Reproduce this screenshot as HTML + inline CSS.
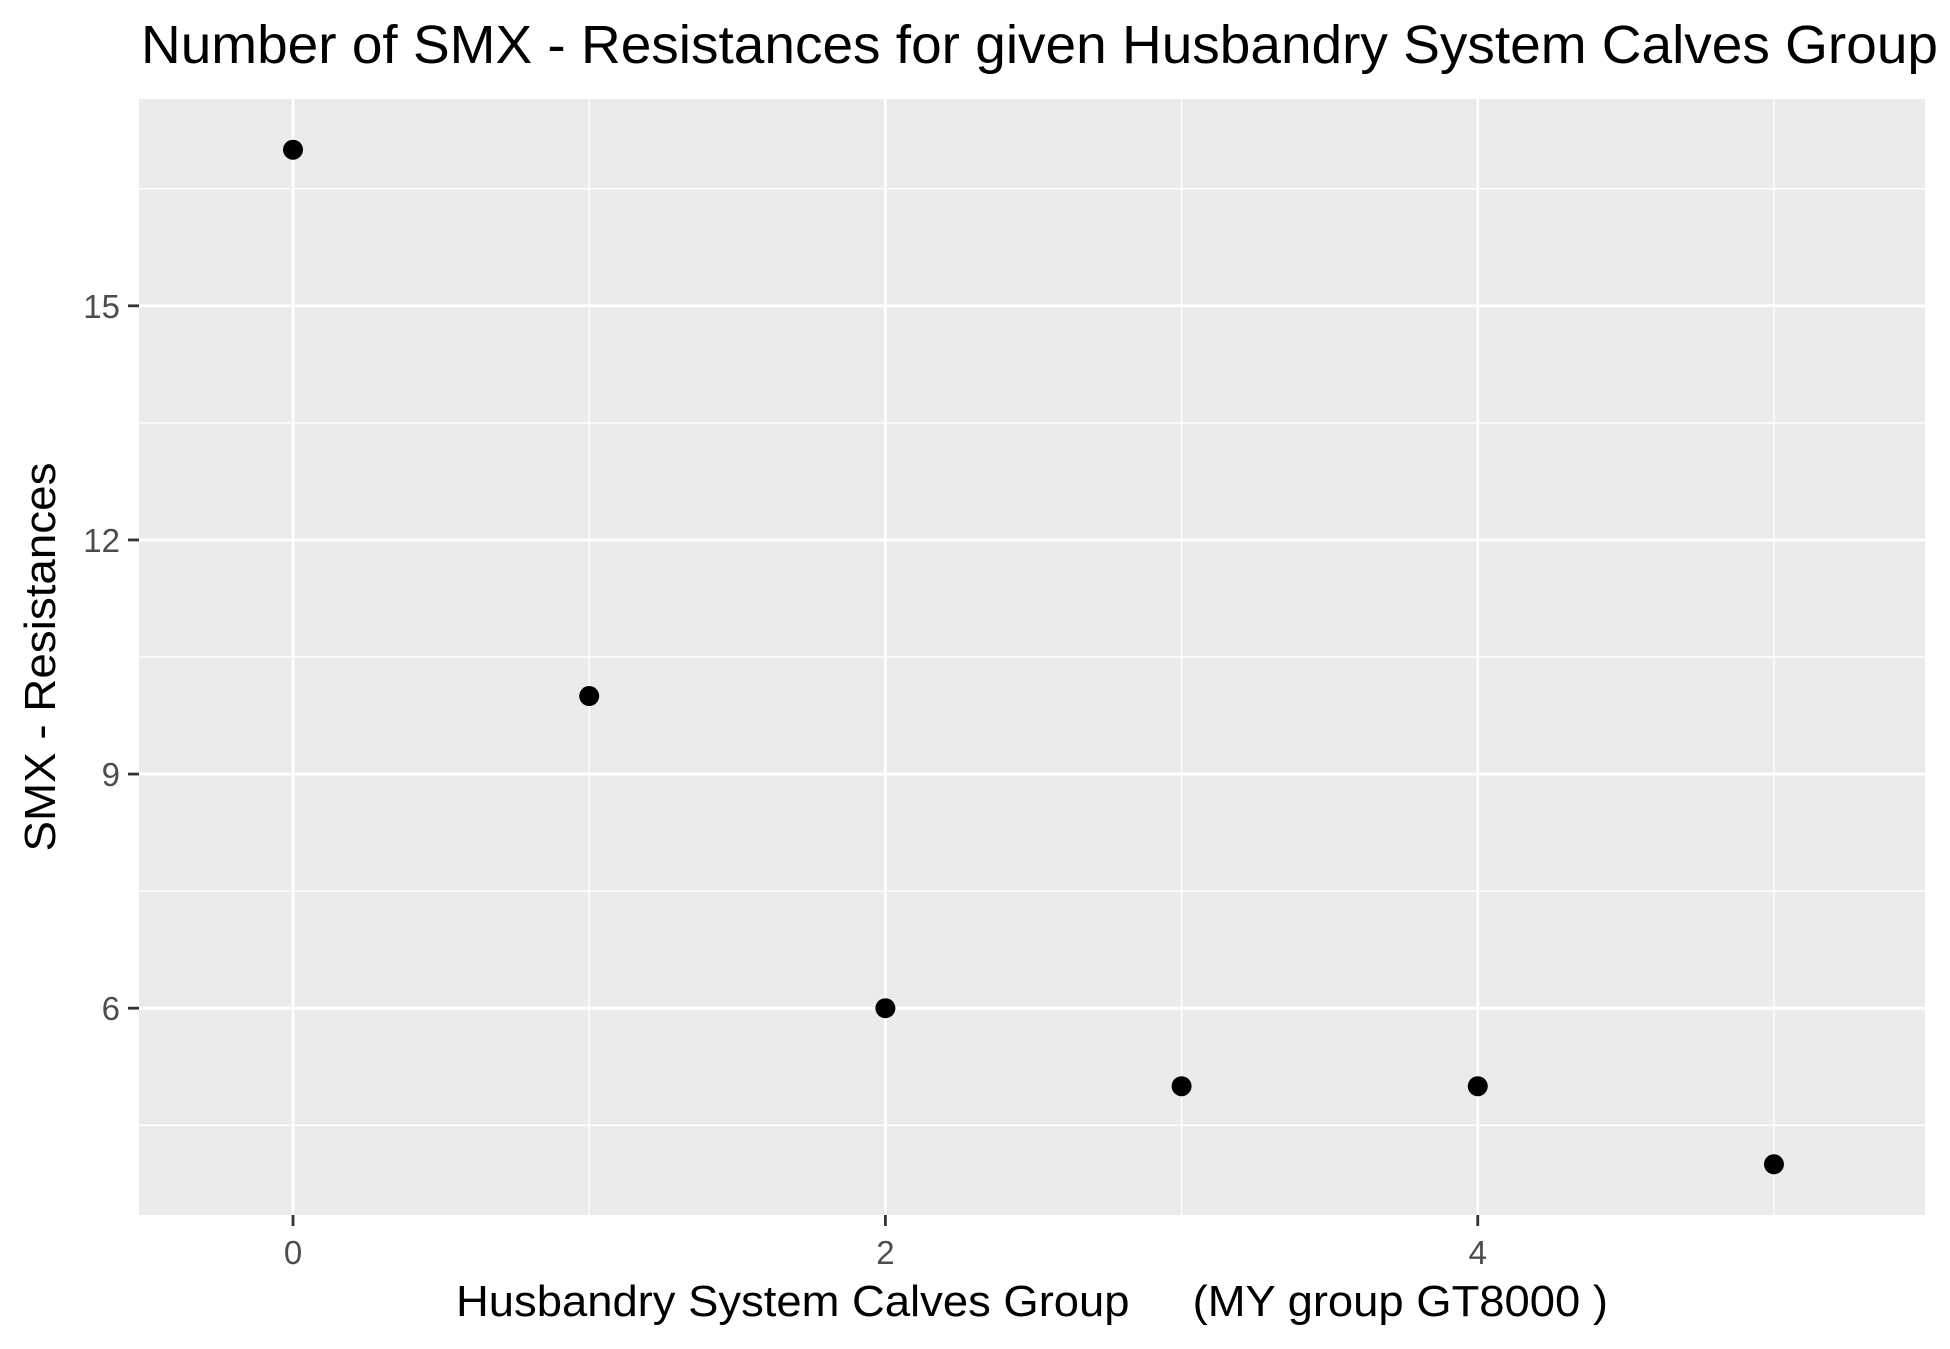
<!DOCTYPE html>
<html><head><meta charset="utf-8"><style>body{margin:0;background:#fff}svg{display:block}</style></head>
<body>
<svg id="chart" width="1950" height="1349" xmlns="http://www.w3.org/2000/svg" font-family="Liberation Sans, sans-serif">
<rect width="1950" height="1349" fill="#fff"/>
<text x="141" y="63" font-size="54" fill="#000" textLength="1797" lengthAdjust="spacingAndGlyphs">Number of SMX - Resistances for given Husbandry System Calves Group</text>
<rect x="139" y="99" width="1786" height="1116" fill="#ebebeb"/>
<g id="grid"></g>
<g id="points"></g>
<g id="axes"></g>
<text x="1032" y="1316" font-size="44" text-anchor="middle" fill="#000" xml:space="preserve" textLength="1152" lengthAdjust="spacingAndGlyphs">Husbandry System Calves Group     (MY group GT8000 )</text>
<text transform="translate(55,657) rotate(-90)" font-size="44" text-anchor="middle" fill="#000" textLength="389" lengthAdjust="spacingAndGlyphs">SMX - Resistances</text>
</svg>
<script>
const categories = [0, 1, 2, 3, 4, 5];
const resistances = [17, 10, 6, 5, 5, 4];
const xTicks = [0, 2, 4];
const xMinor = [1, 3, 5];
const yTicks = [6, 9, 12, 15];
const yMinor = [4.5, 7.5, 10.5, 13.5, 16.5];

const NS = 'http://www.w3.org/2000/svg';
const PL = 139, PR = 1925, PT = 99, PB = 1215;
const xMin = -0.52, xMax = 5.51, yMin = 3.35, yMax = 17.65;
function sx(v){ return PL + (v - xMin) / (xMax - xMin) * (PR - PL); }
function sy(v){ return PB - (v - yMin) / (yMax - yMin) * (PB - PT); }
function mk(tag, attrs, parent){ const e = document.createElementNS(NS, tag); for (const k in attrs) e.setAttribute(k, attrs[k]); parent.appendChild(e); return e; }
const grid = document.getElementById('grid'), pts = document.getElementById('points'), axes = document.getElementById('axes');

yMinor.forEach(v => { const l = mk('line', {x1: PL, x2: PR, y1: sy(v), y2: sy(v), stroke: '#fff', 'stroke-width': 1.4}, grid);
  
   });
xMinor.forEach(v => { const l = mk('line', {x1: sx(v), x2: sx(v), y1: PT, y2: PB, stroke: '#fff', 'stroke-width': 1.4}, grid);
  
   });
yTicks.forEach(v => {
  const l = mk('line', {x1: PL, x2: PR, y1: sy(v), y2: sy(v), stroke: '#fff', 'stroke-width': 2.8}, grid);
  
  
  const t = mk('line', {x1: PL - 11, x2: PL, y1: sy(v), y2: sy(v), stroke: '#333', 'stroke-width': 2.8}, axes);
  
  
  const tx = mk('text', {x: PL - 19, y: sy(v) + 12, 'font-size': 33, 'text-anchor': 'end', fill: '#4d4d4d'}, axes);
  tx.textContent = v;
  
  
});
xTicks.forEach(v => {
  const l = mk('line', {x1: sx(v), x2: sx(v), y1: PT, y2: PB, stroke: '#fff', 'stroke-width': 2.8}, grid);
  
  
  const t = mk('line', {x1: sx(v), x2: sx(v), y1: PB, y2: PB + 11, stroke: '#333', 'stroke-width': 2.8}, axes);
  
  
  const tx = mk('text', {x: sx(v), y: 1264, 'font-size': 33, 'text-anchor': 'middle', fill: '#4d4d4d'}, axes);
  tx.textContent = v;
  
  
});
categories.forEach((c, i) => {
  const p = mk('circle', {cx: sx(c), cy: sy(resistances[i]), r: 10, fill: '#000'}, pts);
  
  
});
</script>
</body></html>
